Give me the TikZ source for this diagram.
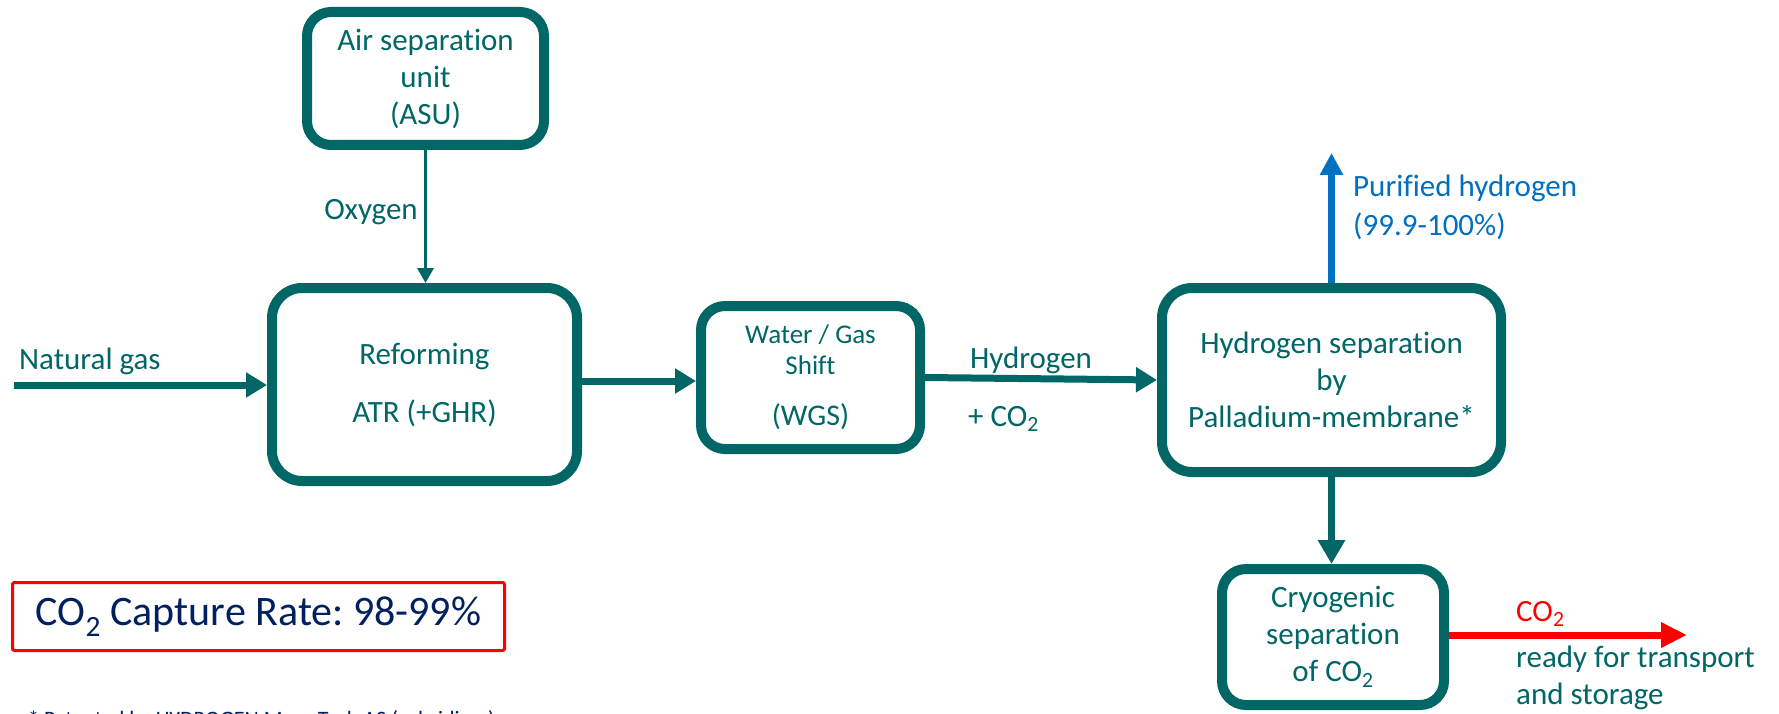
\documentclass[tikz,border=0pt]{standalone}
\usepackage{fontspec}
\setmainfont{Carlito}[Ligatures=NoCommon]
\usetikzlibrary{arrows.meta}
\definecolor{teal1}{RGB}{0,102,102}
\definecolor{hblue}{RGB}{0,112,192}
\definecolor{navy}{RGB}{0,32,96}
\definecolor{cred}{RGB}{255,0,0}
\frenchspacing
\begin{document}
\begin{tikzpicture}[x=1pt,y=-1pt,
  box/.style={draw=teal1, line width=10pt, rounded corners=26pt, align=center, text=teal1, font=\fontsize{31}{37}\selectfont, inner sep=0pt, fill=white},
  lbl/.style={text=teal1, font=\fontsize{31}{37}\selectfont, inner sep=0pt},
  flow/.style={draw=teal1, line width=7pt, -{Triangle[width=24pt,length=21pt]}},
  ]
\useasboundingbox (0,0) rectangle (1779,714);
\clip (0,0) rectangle (1779,714);
\fill[white] (0,0) rectangle (1779,714);

% boxes
\node[box, minimum width=237pt, minimum height=133pt, rounded corners=24pt] (asu) at (425.5,78.5) {Air separation\\unit\\(ASU)};
\node[box, minimum width=305pt, minimum height=193pt, rounded corners=30pt] (ref) at (424.5,384.5) {Reforming\\[21pt]ATR (+GHR)};
\node[box, minimum width=219pt, minimum height=143pt, rounded corners=24pt, font=\fontsize{27}{31}\selectfont] (wgs) at (810.5,377.5) {Water / Gas\\Shift\\[20pt]{\fontsize{30}{36}\selectfont (WGS)}};
\node[box, minimum width=339pt, minimum height=184pt, rounded corners=30pt] (hsep) at (1331.5,380) {Hydrogen separation\\by\\Palladium-membrane*};
\node[box, minimum width=222pt, minimum height=136pt, rounded corners=24pt] (cryo) at (1333,637) {Cryogenic\\separation\\of CO\textsubscript{2}};

% capture rate box
\node[draw=cred, line width=3pt, rounded corners=2pt, minimum width=492pt, minimum height=68pt, text=navy, font=\fontsize{42}{50}\selectfont, inner sep=0pt] (rate) at (258.5,616.5) {CO\textsubscript{2} Capture Rate: 98-99\%};

% footnote (cut at bottom edge, as in the reference)
\node[anchor=base west, text=navy, font=\fontsize{22}{26}\selectfont, inner sep=0pt] (fn) at (28,726) {* Patented by HYDROGEN Mem-Tech AS (subsidiary)};

% natural gas
\coordinate (ngstart) at (14,385);
\draw[flow] (ngstart) -- (ref.west |- ngstart);
\node[lbl, anchor=west] (nglbl) at (19,361) {Natural gas};

% oxygen
\draw[teal1, line width=3.5pt, -{Triangle[width=16pt,length=15pt]}] (asu.south) -- (asu.south |- ref.north);
\node[lbl] (oxy) at (371,212) {Oxygen};

% reforming -> wgs
\draw[flow] (ref.east |- 0,381) -- (wgs.west |- 0,381);

% wgs -> hsep
\draw[flow] (wgs.east) -- (hsep.west);
\node[lbl] (h2lbl) at (1031,360) {Hydrogen};
\node[lbl, anchor=west] (co2lbl) at (968,419) {+ CO\textsubscript{2}};

% purified hydrogen
\coordinate (h2out) at (1331.5,153);
\draw[hblue, line width=7pt, -{Triangle[width=22pt,length=22pt]}] (hsep.north) -- (h2out);
\node[anchor=west, text=hblue, font=\fontsize{31}{39}\selectfont, align=left, inner sep=0pt] (purlbl) at (1353,207) {Purified hydrogen\\(99.9-100\%)};

% hsep -> cryo
\draw[flow, -{Triangle[width=26pt,length=24pt]}] (hsep.south) -- (hsep.south |- cryo.north);

% CO2 out
\coordinate (co2out) at (1687,635);
\draw[cred, line width=7pt, -{Triangle[width=24pt,length=26pt]}] (cryo.east |- co2out) -- (co2out);
\node[anchor=west, text=cred, font=\fontsize{31}{37}\selectfont, inner sep=0pt] (co2red) at (1516,614) {CO\textsubscript{2}};
\node[lbl, anchor=west, align=left] (readylbl) at (1516,678) {ready for transport\\and storage};
\end{tikzpicture}
\end{document}
